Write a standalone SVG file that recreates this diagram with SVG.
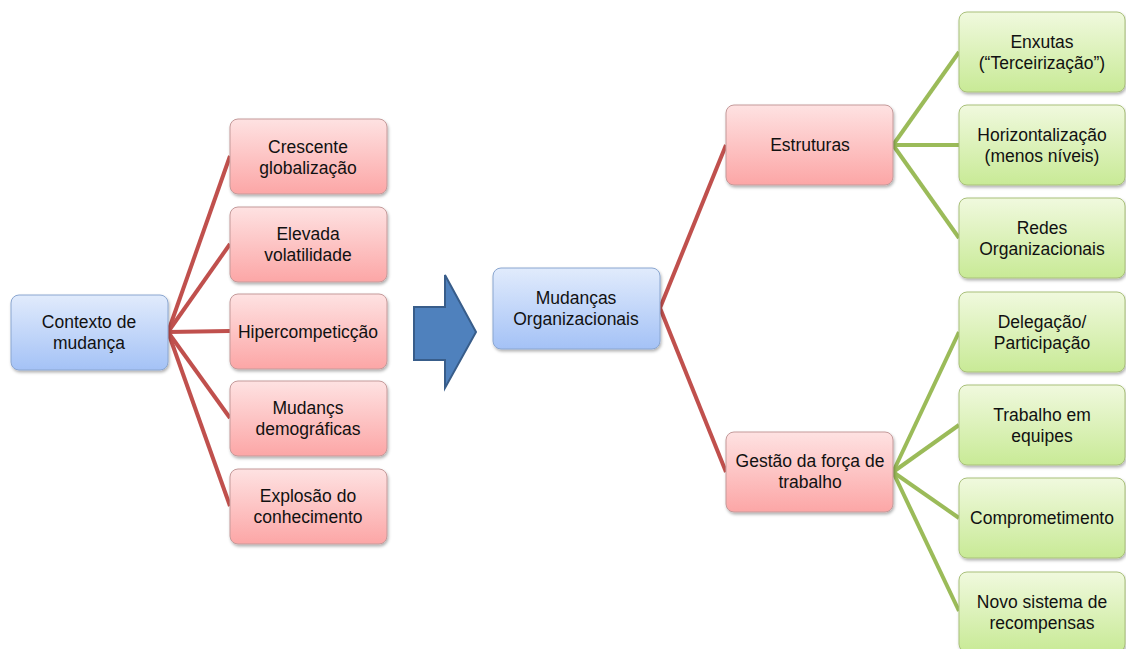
<svg xmlns="http://www.w3.org/2000/svg" width="1126" height="649" viewBox="0 0 1126 649">
<defs>
<linearGradient id="gb" x1="0" y1="0" x2="0" y2="1"><stop offset="0" stop-color="#e1ebfc"/><stop offset="1" stop-color="#a4c2f6"/></linearGradient>
<linearGradient id="gr" x1="0" y1="0" x2="0" y2="1"><stop offset="0" stop-color="#fee2e2"/><stop offset="1" stop-color="#fca6a6"/></linearGradient>
<linearGradient id="gg" x1="0" y1="0" x2="0" y2="1"><stop offset="0" stop-color="#f0f9de"/><stop offset="1" stop-color="#c8ea96"/></linearGradient>
<filter id="sh" x="-10%" y="-10%" width="125%" height="130%"><feDropShadow dx="1" dy="2" stdDeviation="1.5" flood-color="#000" flood-opacity="0.3"/></filter>
</defs>
<style>
text{font-family:"Liberation Sans",Arial,sans-serif;font-size:17.5px;fill:#111;text-anchor:middle}
.b{fill:url(#gb);stroke:#8aa6d0;stroke-width:1;filter:url(#sh)}
.r{fill:url(#gr);stroke:#c49a9a;stroke-width:1;filter:url(#sh)}
.g{fill:url(#gg);stroke:#a9c07a;stroke-width:1;filter:url(#sh)}
.lr{stroke:#c0504d;stroke-width:4;fill:none}
.lg{stroke:#9bbb59;stroke-width:4;fill:none}
</style>
<g id="connectors">
<line class="lr" x1="168" y1="332" x2="230" y2="156"/>
<line class="lr" x1="168" y1="332" x2="230" y2="244"/>
<line class="lr" x1="168" y1="332" x2="230" y2="331"/>
<line class="lr" x1="168" y1="332" x2="230" y2="418"/>
<line class="lr" x1="168" y1="332" x2="230" y2="506"/>
<line class="lr" x1="660" y1="308" x2="726" y2="145"/>
<line class="lr" x1="660" y1="308" x2="726" y2="472"/>
<line class="lg" x1="893" y1="145" x2="959" y2="52"/>
<line class="lg" x1="893" y1="145" x2="959" y2="145"/>
<line class="lg" x1="893" y1="145" x2="959" y2="238"/>
<line class="lg" x1="893" y1="472" x2="959" y2="332"/>
<line class="lg" x1="893" y1="472" x2="959" y2="425"/>
<line class="lg" x1="893" y1="472" x2="959" y2="518"/>
<line class="lg" x1="893" y1="472" x2="959" y2="611"/>
</g>
<g id="contexto"><rect class="b" x="11" y="295" width="157" height="75" rx="8"/><text x="89" y="328">Contexto de</text><text x="89" y="349">mudança</text></g>
<g id="crescente"><rect class="r" x="230" y="119" width="157" height="75" rx="8"/><text x="308" y="153">Crescente</text><text x="308" y="174">globalização</text></g>
<g id="elevada"><rect class="r" x="230" y="207" width="157" height="75" rx="8"/><text x="308" y="240">Elevada</text><text x="308" y="261">volatilidade</text></g>
<g id="hiper"><rect class="r" x="230" y="294" width="157" height="75" rx="8"/><text x="308" y="338">Hipercompeticção</text></g>
<g id="mudancs"><rect class="r" x="230" y="381" width="157" height="75" rx="8"/><text x="308" y="414">Mudançs</text><text x="308" y="435">demográficas</text></g>
<g id="explosao"><rect class="r" x="230" y="469" width="157" height="75" rx="8"/><text x="308" y="502">Explosão do</text><text x="308" y="523">conhecimento</text></g>
<g id="arrow"><polygon points="414,307 445,307 445,275 476,332 445,388 445,360 414,360" fill="#4f81bd" stroke="#385d8a" stroke-width="2"/></g>
<g id="mudancas"><rect class="b" x="493" y="268" width="167" height="81" rx="8"/><text x="576" y="304">Mudanças</text><text x="576" y="325">Organizacionais</text></g>
<g id="estruturas"><rect class="r" x="726" y="105" width="167" height="80" rx="8"/><text x="810" y="151">Estruturas</text></g>
<g id="gestao"><rect class="r" x="726" y="432" width="167" height="80" rx="8"/><text x="810" y="467">Gestão da força de</text><text x="810" y="488">trabalho</text></g>
<g id="enxutas"><rect class="g" x="959" y="12" width="166" height="80" rx="8"/><text x="1042" y="48">Enxutas</text><text x="1042" y="69">(“Terceirização”)</text></g>
<g id="horizontal"><rect class="g" x="959" y="105" width="166" height="80" rx="8"/><text x="1042" y="141">Horizontalização</text><text x="1042" y="162">(menos níveis)</text></g>
<g id="redes"><rect class="g" x="959" y="198" width="166" height="80" rx="8"/><text x="1042" y="234">Redes</text><text x="1042" y="255">Organizacionais</text></g>
<g id="delegacao"><rect class="g" x="959" y="292" width="166" height="80" rx="8"/><text x="1042" y="328">Delegação/</text><text x="1042" y="349">Participação</text></g>
<g id="trabalho"><rect class="g" x="959" y="385" width="166" height="80" rx="8"/><text x="1042" y="421">Trabalho em</text><text x="1042" y="442">equipes</text></g>
<g id="comprometimento"><rect class="g" x="959" y="478" width="166" height="80" rx="8"/><text x="1042" y="524">Comprometimento</text></g>
<g id="novo"><rect class="g" x="959" y="572" width="166" height="80" rx="8"/><text x="1042" y="608">Novo sistema de</text><text x="1042" y="629">recompensas</text></g>
</svg>
